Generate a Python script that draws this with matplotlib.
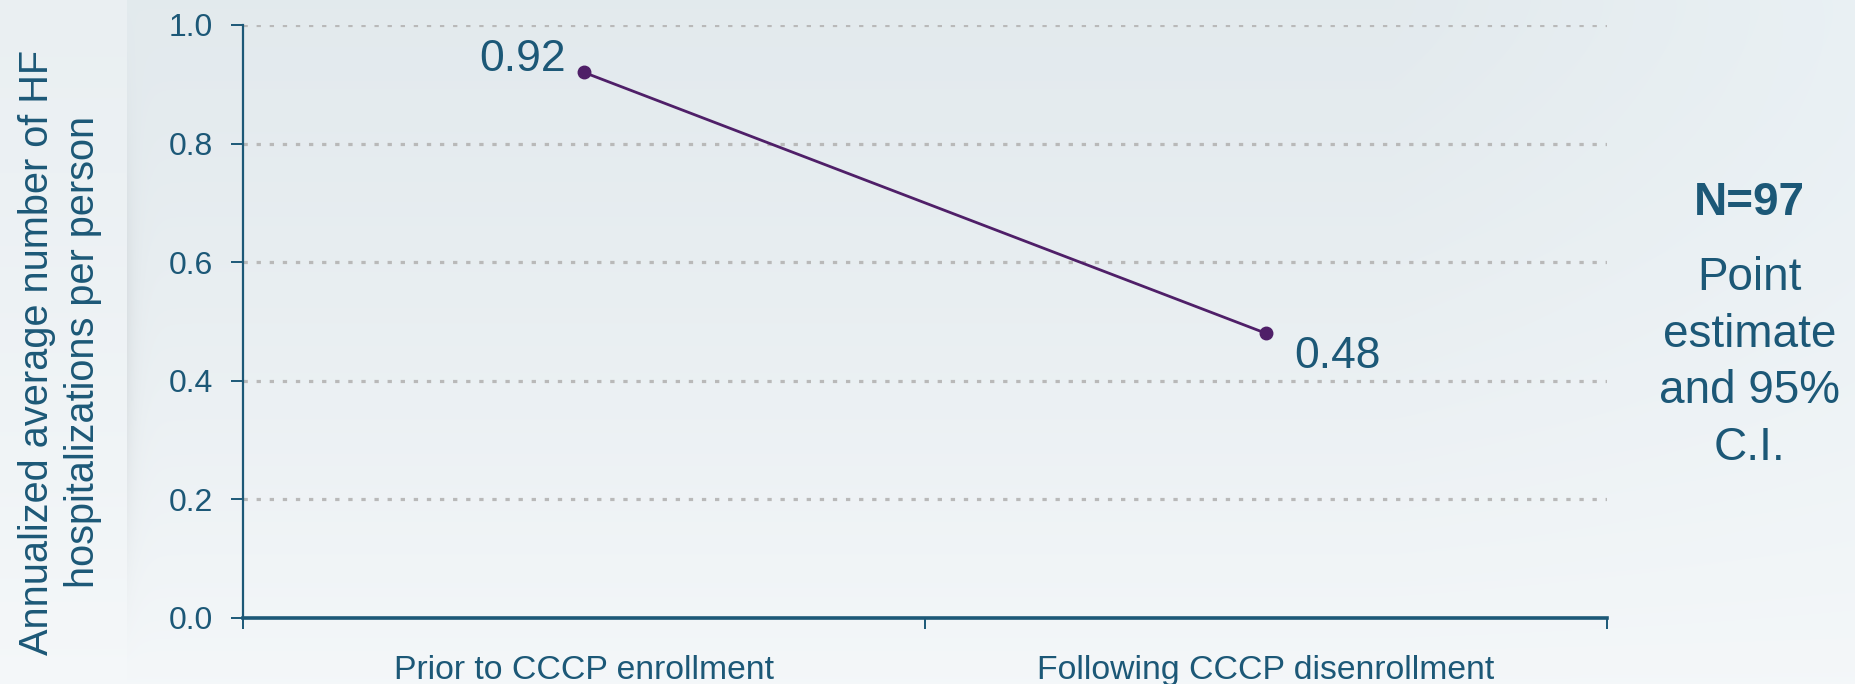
import numpy as np
import matplotlib.pyplot as plt

plt.rcParams['font.family'] = ['Liberation Sans', 'DejaVu Sans']

# Data
periods = ['Prior to CCCP enrollment', 'Following CCCP disenrollment']
hosp_rate = [0.92, 0.48]
rate_labels = ['0.92', '0.48']
y_ticks = [0.0, 0.2, 0.4, 0.6, 0.8, 1.0]

text_color = '#1C5877'
line_color = '#4F1F68'

fig = plt.figure(figsize=(18.56, 6.84), dpi=100)

# soft slide-style background: cool gray-blue, lighter towards the bottom
bg = fig.add_axes([0, 0, 1, 1], zorder=-10)
W, H = 1856, 342
gx = np.linspace(0, 1, W)
gy = np.linspace(0, 1, H)
X, Y = np.meshgrid(gx, gy)
top = np.array([0.890, 0.918, 0.932])
bottom = np.array([0.957, 0.969, 0.977])
t = (Y ** 1.3)[..., None]
rgb = top * (1 - t) + bottom * t
# slightly lighter towards the right edge
rgb += (0.025 * np.clip((X - 0.75) / 0.25, 0, 1) * (1 - Y))[..., None]
# pale strip behind the y label, casting a soft shadow to its right
edge = 0.068
strip = X < edge
rgb[strip] = rgb[strip] * 0.6 + np.array([0.962, 0.973, 0.979]) * 0.4
shadow = np.exp(-(X - edge) / 0.004) * (X >= edge) * np.sin(np.pi * Y) ** 1.5
rgb -= (0.06 * shadow)[..., None]
rgb = np.clip(rgb, 0, 1)
bg.imshow(rgb, aspect='auto', extent=[0, 1, 0, 1], origin='upper',
          interpolation='bilinear')
bg.axis('off')

ax = fig.add_axes([0.1309, 0.0965, 0.735, 0.867])
ax.patch.set_alpha(0)

x = np.arange(len(periods)) + 0.5
ax.plot(x, hosp_rate, color=line_color, lw=2, marker='o', ms=9, zorder=3)

ax.annotate(rate_labels[0], (x[0], hosp_rate[0]), xytext=(-13, 9.5),
            textcoords='offset points', ha='right', va='center',
            fontsize=32, color=text_color)
ax.annotate(rate_labels[1], (x[1], hosp_rate[1]), xytext=(20.5, -16.5),
            textcoords='offset points', ha='left', va='center',
            fontsize=32, color=text_color)

ax.set_xlim(0, len(periods))
ax.set_ylim(0, 1.0)
ax.set_yticks(y_ticks)
ax.set_yticklabels([f'{v:.1f}' for v in y_ticks])
ax.set_xticks(np.arange(len(periods) + 1))
ax.set_xticklabels([])
ax.set_xticks(x, minor=True)
ax.set_xticklabels(periods, minor=True)
ax.tick_params(axis='x', which='minor', length=0, pad=27, labelsize=24.3,
               labelcolor=text_color)
ax.tick_params(axis='x', which='major', length=8, width=1.4, color=text_color)
ax.tick_params(axis='y', length=8.4, width=1.4, color=text_color, pad=13,
               labelsize=23, labelcolor=text_color)

for v in y_ticks[1:]:
    ax.axhline(v, color='#B9B9B9', lw=2.3, ls=(0, (1.35, 2.75)), zorder=1)

for side in ['top', 'right']:
    ax.spines[side].set_visible(False)
ax.spines['left'].set_color(text_color)
ax.spines['left'].set_linewidth(1.6)
ax.spines['bottom'].set_color(text_color)
ax.spines['bottom'].set_linewidth(2.6)

fig.text(0.0322, 0.485, 'Annualized average number of HF\nhospitalizations per person',
         rotation=90, ha='center', va='center', fontsize=28.6,
         color=text_color, linespacing=1.25)

fig.text(0.9425, 0.686, 'N=97', ha='center', va='baseline', fontsize=33,
         fontweight='bold', color=text_color)
# baseline of the last line ("C.I.")
fig.text(0.9425, 0.3275, 'Point\nestimate\nand 95%\nC.I.', ha='center',
         va='baseline', fontsize=33, color=text_color, linespacing=1.37)

fig.savefig('out.png', dpi=100)
